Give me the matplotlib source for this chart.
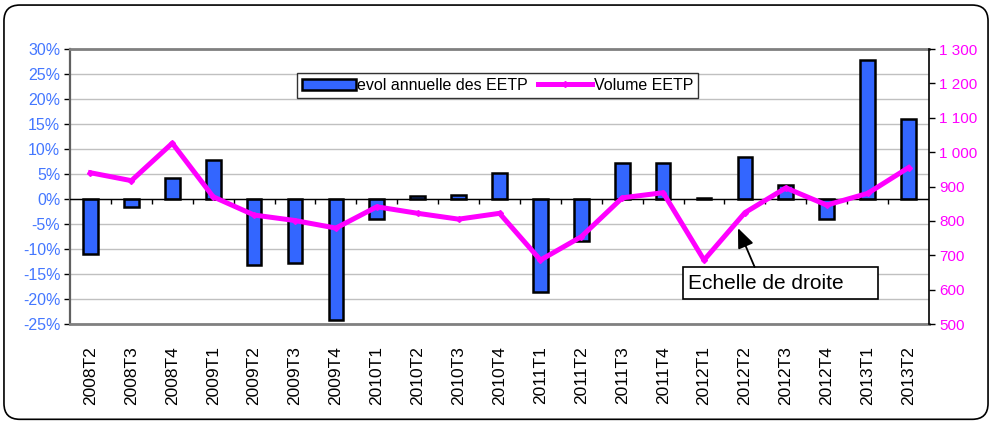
import numpy as np
import matplotlib
matplotlib.use('Agg')
import matplotlib.pyplot as plt
from matplotlib.patches import FancyBboxPatch, Rectangle
from matplotlib.ticker import FuncFormatter

plt.rcParams['font.family'] = ['Liberation Sans', 'DejaVu Sans']

trimestres = ['2008T2', '2008T3', '2008T4', '2009T1', '2009T2', '2009T3', '2009T4',
              '2010T1', '2010T2', '2010T3', '2010T4', '2011T1', '2011T2', '2011T3',
              '2011T4', '2012T1', '2012T2', '2012T3', '2012T4', '2013T1', '2013T2']
evol_eetp = [-10.9, -1.5, 4.3, 7.8, -13.1, -12.7, -24.2,
             -4.0, 0.7, 0.8, 5.3, -18.5, -8.3, 7.3,
             7.3, 0.3, 8.5, 2.9, -3.9, 27.8, 16.1]
volume_eetp = [940, 917, 1026, 870, 817, 801, 779,
               841, 822, 805, 822, 686, 754, 867,
               882, 686, 824, 896, 846, 880, 955]

bleu = '#3366ff'
magenta = '#ff00ff'

fig = plt.figure(figsize=(9.92, 4.21), dpi=100)
ax = fig.add_axes([0.0706, 0.2304, 0.8659, 0.6532])
x = np.arange(len(trimestres))

ax.set_axisbelow(True)
ax.grid(axis='y', color='#c0c0c0', lw=1)
barres = ax.bar(x, evol_eetp, width=0.36, color=bleu, edgecolor='black', lw=1.8,
                label='evol annuelle des EETP', zorder=2)
ax.axhline(0, color='black', lw=1, zorder=3)
ax.vlines(x[:-1] + 0.5, -0.9, 0, color='black', lw=1, zorder=3)
ax.set_ylim(-25, 30)
ax.set_xlim(-0.5, len(trimestres) - 0.5)
ax.set_yticks(np.arange(-25, 31, 5))
ax.yaxis.set_major_formatter(FuncFormatter(lambda v, p: f'{int(v)}%'))
ax.tick_params(axis='y', colors='#000000', labelcolor='#4477ff', labelsize=11.5,
               direction='out', length=4, width=1, pad=3)
ax.set_xticks(x)
ax.set_xticklabels(trimestres, rotation=90, fontsize=12.5)
ax.tick_params(axis='x', length=0, pad=16)
for s in ['top', 'bottom']:
    ax.spines[s].set_color('#808080')
    ax.spines[s].set_linewidth(2)
ax.spines['left'].set_color('#606060')
ax.spines['left'].set_linewidth(1.6)
ax.spines['right'].set_visible(False)

ax2 = ax.twinx()
ligne, = ax2.plot(x, volume_eetp, color=magenta, lw=3.6, marker='D', markersize=3,
                  label='Volume EETP', zorder=4)
ax2.set_ylim(500, 1300)
ax2.set_yticks(np.arange(500, 1301, 100))
ax2.yaxis.set_major_formatter(FuncFormatter(lambda v, p: f'{int(v):,}'.replace(',', ' ')))
ax2.tick_params(axis='y', colors='black', labelcolor=magenta, labelsize=11,
                direction='out', length=4, width=1)
for s in ['top', 'bottom', 'left']:
    ax2.spines[s].set_visible(False)
ax2.spines['right'].set_color('black')
ax2.spines['right'].set_linewidth(1.2)

leg = ax2.legend([barres, ligne], ['evol annuelle des EETP', 'Volume EETP'],
                 loc='upper left', bbox_to_anchor=(0.264, 0.913), ncol=2,
                 fontsize=11.5, frameon=True, fancybox=False, borderpad=0.3,
                 handlelength=3.4, handletextpad=0.1, columnspacing=0.6,
                 borderaxespad=0)
leg.get_frame().set_edgecolor('black')
leg.get_frame().set_linewidth(1)

# encadre "Echelle de droite" et fleche
ax2.add_patch(Rectangle((0.7136, 0.0909), 0.227, 0.1164, transform=ax2.transAxes,
                        fc='white', ec='black', lw=1.2, zorder=5))
ax2.text(0.7195, 0.149, 'Echelle de droite', transform=ax2.transAxes, fontsize=15,
         va='center', ha='left', zorder=6)
ax2.annotate('', xy=(15.83, 779), xycoords='data',
             xytext=(0.797, 0.2073), textcoords='axes fraction',
             arrowprops=dict(arrowstyle='-|>,head_length=1.2,head_width=0.5',
                             color='black', lw=1.3, shrinkA=0, shrinkB=0), zorder=6)

cadre = FancyBboxPatch((0.004, 0.004), 0.992, 0.984, transform=fig.transFigure,
                       boxstyle='round,pad=0,rounding_size=0.016', mutation_aspect=2.356,
                       fc='none', ec='black', lw=1.2)
fig.patches.append(cadre)

fig.savefig('out.png', dpi=100)
